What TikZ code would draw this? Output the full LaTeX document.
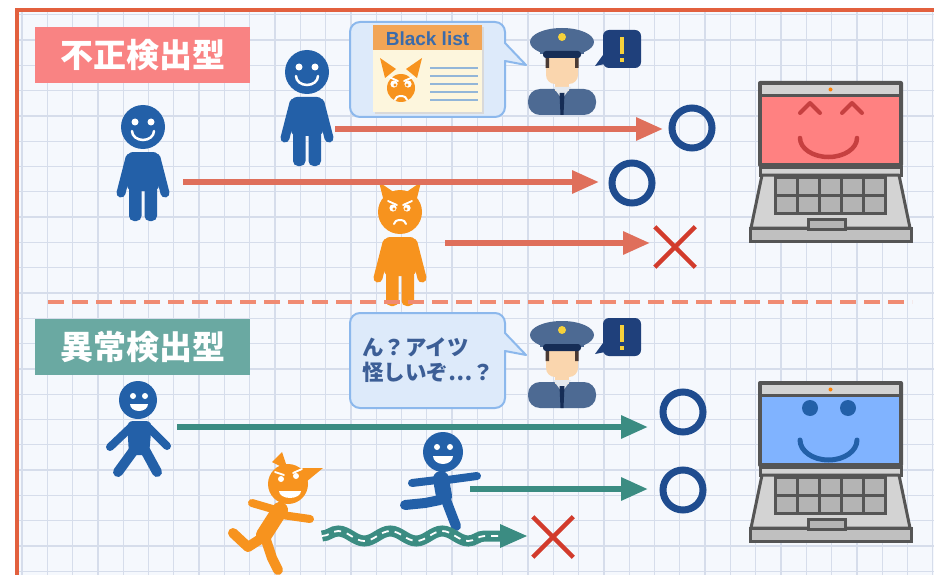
\documentclass[tikz,border=0pt]{standalone}
\usepackage{fontspec}
\setmainfont{Liberation Sans}
\newfontfamily\jpfont{Noto Sans CJK JP}
\usetikzlibrary{arrows.meta, positioning, shapes.misc, decorations.pathmorphing}

\definecolor{paper}{HTML}{F5F8FD}
\definecolor{gridblue}{HTML}{D6DDEB}
\definecolor{frameorange}{HTML}{E2603E}
\definecolor{tagpink}{HTML}{F98383}
\definecolor{tagteal}{HTML}{6AA9A2}
\definecolor{cutline}{HTML}{F08B72}
\definecolor{manblue}{HTML}{2360A8}
\definecolor{devilorange}{HTML}{F7931E}
\definecolor{salmon}{HTML}{DF6F5B}
\definecolor{tealarrow}{HTML}{3B8C82}
\definecolor{oknavy}{HTML}{1F4C8F}
\definecolor{ngred}{HTML}{D23B2C}
\definecolor{bubblefill}{HTML}{DDEAFA}
\definecolor{bubbleedge}{HTML}{8CB8EC}
\definecolor{capslate}{HTML}{4D6A93}
\definecolor{skin}{HTML}{FAD6AE}
\definecolor{hair}{HTML}{4A3A34}
\definecolor{alertnavy}{HTML}{1F407B}
\definecolor{alertyellow}{HTML}{F6D13A}
\definecolor{lidgray}{HTML}{555555}
\definecolor{bodygray}{HTML}{D3D3D3}
\definecolor{keygray}{HTML}{B4B4B4}
\definecolor{screenpink}{HTML}{FF8181}
\definecolor{screenblue}{HTML}{80B3FF}
\definecolor{listhead}{HTML}{F2A556}
\definecolor{listpaper}{HTML}{FDF6DD}
\definecolor{listtext}{HTML}{3B6BAA}
\definecolor{listline}{HTML}{93B6D8}
\definecolor{saytext}{HTML}{3C5E96}

\tikzset{
  % standing figure, head centre at the origin
  pics/stander/.style={code={
    \fill[#1] (0,0) circle[radius=22pt];
    \fill[#1, rounded corners=6pt] (-16,25) rectangle (16,64);
    \draw[#1, line width=9pt, line cap=round] (-13,31) -- (-22,66) (13,31) -- (22,66);
    \fill[#1, rounded corners=5pt] (-14,58) rectangle (-1.5,94);
    \fill[#1, rounded corners=5pt] (1.5,58) rectangle (14,94);
  }},
  pics/smiley/.style={code={
    \fill[white] (-8,-5) circle[radius=3.5pt] (8,-5) circle[radius=3.5pt];
    \draw[white, line width=2.5pt, line cap=round] (-11,4)
      arc[start angle=180, end angle=360, x radius=11pt, y radius=9pt];
  }},
  % horns and angry face
  pics/devilhead/.style={code={
    \fill[devilorange] (-16,-10) -- (-21,-30) -- (-5,-19) -- cycle;
    \fill[devilorange] (16,-10) -- (21,-30) -- (5,-19) -- cycle;
    \fill[devilorange] (0,0) circle[radius=#1];
    \fill[white] (-7,-4) circle[radius=3.6pt] (7,-4) circle[radius=3.6pt];
    \fill[devilorange] (-6,-3) circle[radius=1.6pt] (6,-3) circle[radius=1.6pt];
    \draw[white, line width=1.8pt, line cap=round] (-12,-11) -- (-3,-7) (12,-11) -- (3,-7);
    \draw[white, line width=2pt, line cap=round] (-6,12)
      arc[start angle=180, end angle=0, x radius=6pt, y radius=4pt];
  }},
  pics/officer/.style={code={
    \fill[capslate, rounded corners=12pt] (-34,44) -- (-34,18) -- (34,18) -- (34,44) -- cycle;
    \fill[skin] (-7,6) rectangle (7,20);
    \fill[white!85!capslate] (-9,16) -- (0,28) -- (9,16) -- cycle;
    \fill[alertnavy!70!black] (-2.5,22) -- (2.5,22) -- (1.5,44) -- (-1.5,44) -- cycle;
    \fill[skin, rounded corners=9pt] (-16,-18) rectangle (16,13);
    \fill[hair] (-16.5,-15) rectangle (-13,-3) (13,-15) rectangle (16.5,-3);
    \fill[capslate] (0,-29) ellipse[x radius=32pt, y radius=14pt];
    \fill[capslate] (-22,-26) rectangle (22,-17);
    \fill[alertnavy!70!black, rounded corners=3pt] (-19,-20) rectangle (19,-13);
    \fill[alertyellow] (0,-34) circle[radius=4pt];
  }},
  pics/alertbox/.style={code={
    \fill[alertnavy, rounded corners=6pt] (-19,-19) rectangle (19,19);
    \fill[alertnavy] (-19,6) -- (-27,17) -- (-12,14) -- cycle;
    \fill[alertyellow] (-2.3,-12) rectangle (2.3,5);
    \fill[alertyellow] (-2.3,9) rectangle (2.3,13);
  }},
  % laptop, origin at the top left of the lid
  pics/laptop/.style={code={
    \fill[lidgray, rounded corners=2pt] (0,0) rectangle (145,86);
    \fill[bodygray] (4,4) rectangle (141,13);
    \fill[#1] (4,16) rectangle (141,82);
    \fill[orange] (72.5,8.5) circle[radius=2pt];
    \filldraw[fill=bodygray, draw=lidgray, line width=3pt] (2,86) rectangle (143,94);
    \filldraw[fill=bodygray, draw=lidgray, line width=3pt, line join=round]
      (4,94) -- (141,94) -- (152,147) -- (-7,147) -- cycle;
    \filldraw[fill=bodygray!85!lidgray, draw=lidgray, line width=3pt] (-8,147) rectangle (153,160);
    \foreach \kc in {0,...,4}
      \foreach \kr in {0,1}
        \filldraw[fill=keygray, draw=lidgray, line width=3pt]
          (17+22*\kc,96+18*\kr) rectangle +(22,18);
    \filldraw[fill=keygray, draw=lidgray, line width=3pt] (50,138) rectangle (87,148);
  }},
}

\begin{document}
\begin{tikzpicture}[
  x=1pt, y=-1pt,
  gridline/.style={gridblue, line width=1.3pt},
  tag/.style={rectangle, text=white, inner sep=0pt, minimum width=215pt, minimum height=56pt,
    font=\jpfont\bfseries\fontsize{33}{36}\selectfont},
  saybubble/.style={fill=bubblefill, draw=bubbleedge, line width=2pt, line join=round},
  fraudarrow/.style={salmon, line width=6pt, -{Triangle[length=27pt, width=22pt]}},
  watcharrow/.style={tealarrow, line width=6pt, -{Triangle[length=27pt, width=22pt]}},
  okmark/.style={circle, draw=oknavy, line width=7pt, minimum size=40pt, inner sep=0pt},
  ngmark/.style={cross out, draw=ngred, line width=4.5pt, minimum size=36pt, inner sep=0pt},
  limb/.style={line width=#1, line cap=round, line join=round},
  wave/.style={decorate, decoration={snake, segment length=52pt, amplitude=5pt}},
]

\useasboundingbox (0,0) rectangle (934,575);
\fill[white] (0,0) rectangle (934,575);
\fill[paper] (17,10) rectangle (934,575);
\foreach \gx in {22,47.3,...,934} \draw[gridline] (\gx,12) -- (\gx,575);
\foreach \gy in {14.7,40,...,575} \draw[gridline] (19,\gy) -- (934,\gy);
\draw[frameorange, line width=4pt] (17,575) -- (17,10) -- (934,10);

% ---------- upper half ----------
\node[tag, fill=tagpink] (fraudtag) at (142.5,55) {不正検出型};

\pic at (143,127) {stander=manblue};
\pic at (143,127) {smiley};
\pic at (307,72) {stander=manblue};
\pic at (307,72) {smiley};
\pic at (400,212) {stander=devilorange};
\pic at (400,212) {devilhead=20pt};

% blacklist balloon
\filldraw[saybubble] (427,22) [rounded corners=10pt] -- (505,22) [sharp corners] -- (505,43)
  -- (526,65) -- (505,61) [rounded corners=10pt] -- (505,117) -- (350,117) -- (350,22) -- cycle;
\fill[black!15] (375,27) rectangle (484,114);
\fill[listpaper] (373,25) rectangle (482,112);
\fill[listhead] (373,25) rectangle (482,50);
\node[font=\bfseries\fontsize{19}{20}\selectfont, text=listtext, inner sep=0pt] (listtitle) at (427.5,38.5) {Black list};
\foreach \ly in {68,76,84,92,100} \draw[listline, line width=1.6pt] (430,\ly) -- (478,\ly);
\pic at (401,88) {devilhead=14pt};

\pic at (562,71) {officer};
\pic at (622,49) {alertbox};

\coordinate (t1s) at (335,129);
\coordinate (t1e) at (663,129);
\coordinate (t2s) at (183,182);
\coordinate (t2e) at (599,182);
\coordinate (t3s) at (445,243);
\coordinate (t3e) at (650,243);
\node[okmark] (ok1) at (692,128) {};
\node[okmark] (ok2) at (632,183) {};
\node[ngmark] (ng1) at (675,247) {};
\draw[fraudarrow] (t1s) -- (t1e);
\draw[fraudarrow] (t2s) -- (t2e);
\draw[fraudarrow] (t3s) -- (t3e);

\pic at (758,81) {laptop=screenpink};
\draw[red!70!black!75, line width=4pt, line cap=round, line join=round]
  (800,113) -- (810,103) -- (820,113) (842,113) -- (852,103) -- (862,113);
\draw[red!70!black!75, line width=4.5pt, line cap=round] (800,138)
  arc[start angle=180, end angle=360, x radius=28.5pt, y radius=19pt];

% ---------- divider ----------
\coordinate (cutL) at (48,302);
\coordinate (cutR) at (912,302);
\draw[cutline, line width=4pt, dash pattern=on 16pt off 8pt] (cutL) -- (cutR);

% ---------- lower half ----------
\node[tag, fill=tagteal] (anomalytag) at (142.5,347) {異常検出型};

\filldraw[saybubble] (427,313) [rounded corners=10pt] -- (505,313) [sharp corners] -- (505,333)
  -- (526,355) -- (505,351) [rounded corners=10pt] -- (505,408) -- (350,408) -- (350,313) -- cycle;
\node[anchor=west, align=left, inner sep=0pt, text=saytext,
  font=\jpfont\bfseries\fontsize{21.5}{25}\selectfont] (doubt) at (362,360) {ん？アイツ\\怪しいぞ…？};

\pic at (562,364) {officer};
\pic at (622,337) {alertbox};

% walker
\fill[manblue] (138,400) circle[radius=19pt];
\fill[white] (133,396) circle[radius=3pt] (145,396) circle[radius=3pt];
\fill[white] (130,404) arc[start angle=180, end angle=360, x radius=9pt, y radius=7pt] -- cycle;
\fill[manblue, rounded corners=6pt] (127,421) -- (152,421) -- (149,455) -- (129,455) -- cycle;
\draw[manblue, limb=8pt] (130,428) -- (110,447) (149,428) -- (167,446);
\draw[manblue, limb=10pt] (134,450) -- (118,472) (145,450) -- (157,472);

% runner
\fill[manblue] (443,452) circle[radius=20pt];
\fill[white] (437,447) circle[radius=3pt] (450,447) circle[radius=3pt];
\fill[white] (433,456) arc[start angle=180, end angle=360, x radius=10pt, y radius=8pt] -- cycle;
\draw[manblue, limb=16pt] (441,479) -- (444,496);
\draw[manblue, limb=8pt] (437,480) -- (412,483) (447,480) -- (477,476);
\draw[manblue, limb=10pt] (446,500) -- (456,526) (440,500) -- (425,503) -- (405,505);

% running devil
\fill[devilorange] (272,462) -- (282,452) -- (288,470) -- cycle;
\fill[devilorange] (300,468) -- (323,468) -- (306,482) -- cycle;
\fill[devilorange] (288,484) circle[radius=20pt];
\fill[white] (281,479) circle[radius=3pt] (296,476) circle[radius=3pt];
\draw[white, line width=1.8pt, line cap=round] (275,472) -- (284,475) (302,469) -- (293,473);
\fill[white] (279,491) arc[start angle=180, end angle=360, x radius=11pt, y radius=7pt] -- cycle;
\draw[devilorange, limb=16pt] (280,510) -- (264,535);
\draw[devilorange, limb=8pt] (276,510) -- (252,503) (282,515) -- (310,519);
\draw[devilorange, limb=10pt] (262,538) -- (248,547) -- (233,533) (266,540) -- (272,558) -- (278,570);

\coordinate (b1s) at (177,427);
\coordinate (b1e) at (648,427);
\coordinate (b2s) at (470,489);
\coordinate (b2e) at (648,489);
\coordinate (w1s) at (322,536);
\coordinate (w1e) at (504,536);
\node[okmark] (ok3) at (683,412) {};
\node[okmark] (ok4) at (683,490) {};
\node[ngmark] (ng2) at (553,537) {};
\draw[watcharrow] (b1s) -- (b1e);
\draw[watcharrow] (b2s) -- (b2e);
\draw[tealarrow, line width=11pt, wave] (w1s) -- (w1e);
\draw[white, line width=1.8pt, dash pattern=on 7pt off 6pt, wave] (w1s) -- (w1e);
\fill[tealarrow] (w1e) ++(-4,-12) -- ++(27,12) -- ++(-27,12) -- cycle;

\pic at (758,381) {laptop=screenblue};
\fill[manblue] (810,408) circle[radius=8pt] (848,408) circle[radius=8pt];
\draw[manblue, line width=5pt, line cap=round] (800,440)
  arc[start angle=180, end angle=360, x radius=28.5pt, y radius=20pt];

\end{tikzpicture}
\end{document}
